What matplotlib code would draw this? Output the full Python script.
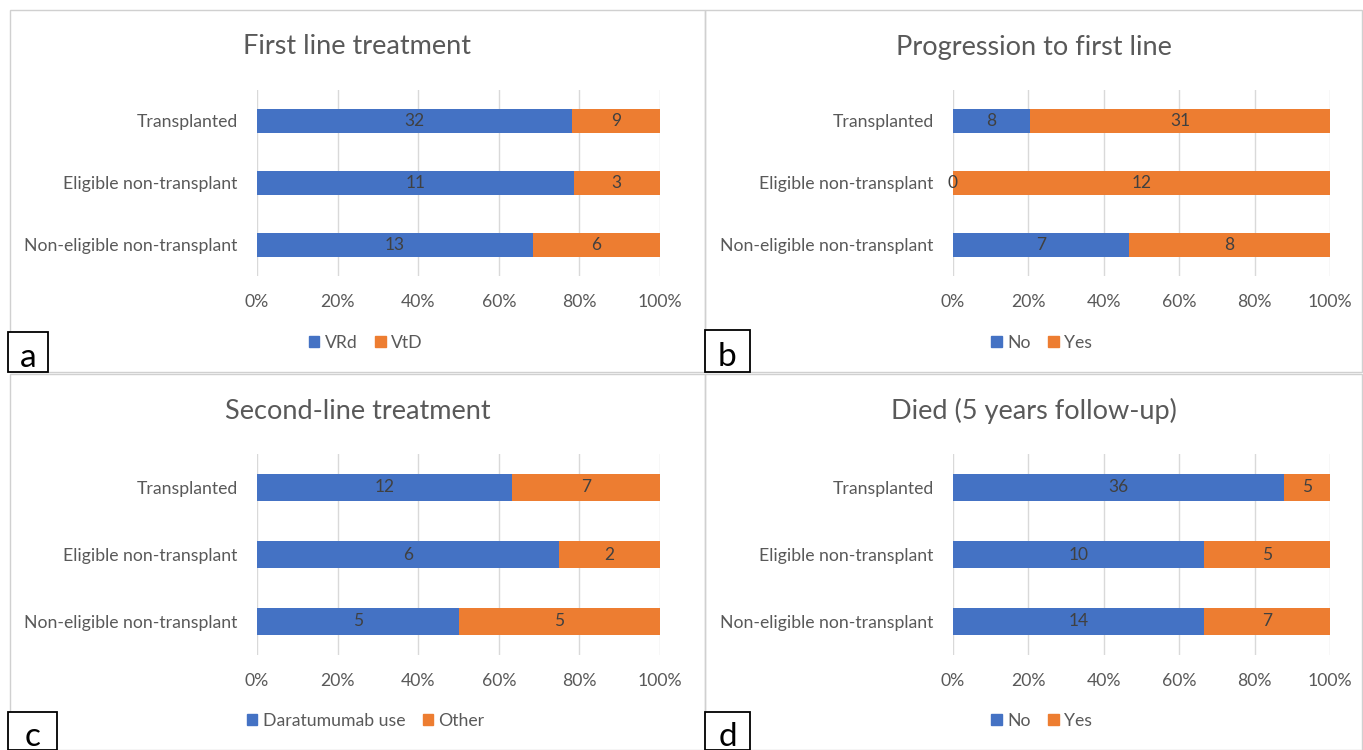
import matplotlib.pyplot as plt
from matplotlib.patches import Patch, Rectangle

plt.rcParams['font.family'] = ['Lato', 'DejaVu Sans']

BLUE = '#4472C4'
ORANGE = '#ED7D31'
TEXT = '#595959'
GRID = '#D9D9D9'

W, H = 1363, 750

groups = ['Transplanted', 'Eligible non-transplant', 'Non-eligible non-transplant']

first_line_vrd = [32, 11, 13]
first_line_vtd = [9, 3, 6]

progression_no = [8, 0, 7]
progression_yes = [31, 12, 8]

second_line_dara = [12, 6, 5]
second_line_other = [7, 2, 5]

died_no = [36, 10, 14]
died_yes = [5, 5, 7]

ticks = [0, 20, 40, 60, 80, 100]
tick_labels = ['0%', '20%', '40%', '60%', '80%', '100%']


def px_axes(fig, x0, x1, y0, y1):
    # pixel box (top-left origin) -> figure fraction axes
    return fig.add_axes([x0 / W, 1 - y1 / H, (x1 - x0) / W, (y1 - y0) / H])


def draw_panel(fig, box, title, first, second, names, letter, pbox, lbox):
    ax = px_axes(fig, *box)
    n = len(groups)
    ypos = list(range(n))[::-1]
    tot = [a + b for a, b in zip(first, second)]
    p1 = [100 * a / t for a, t in zip(first, tot)]
    p2 = [100 * b / t for b, t in zip(second, tot)]
    ax.barh(ypos, p1, height=0.4, color=BLUE, zorder=3)
    ax.barh(ypos, p2, left=p1, height=0.4, color=ORANGE, zorder=3)
    for y, a, b, pa, pb in zip(ypos, first, second, p1, p2):
        ax.text(pa / 2, y, str(a), ha='center', va='center', fontsize=12.5, color='#404040', zorder=4)
        ax.text(pa + pb / 2, y, str(b), ha='center', va='center', fontsize=12.5, color='#404040', zorder=4)
    ax.set_xlim(0, 100)
    ax.set_ylim(-0.5, n - 0.5)
    ax.set_xticks(ticks)
    ax.set_xticklabels(tick_labels)
    ax.set_yticks(ypos)
    ax.set_yticklabels(groups)
    ax.tick_params(length=0, labelsize=12.7, labelcolor=TEXT)
    ax.tick_params(axis='x', pad=13)
    ax.tick_params(axis='y', pad=14)
    ax.grid(axis='x', color=GRID, linewidth=1, zorder=0)
    for s in ax.spines.values():
        s.set_visible(False)

    # panel frame
    px0, px1, py0, py1 = pbox
    fig.patches.append(Rectangle((px0 / W, 1 - py1 / H), (px1 - px0) / W, (py1 - py0) / H,
                                 transform=fig.transFigure, fill=False, edgecolor='#D0D0D0',
                                 linewidth=1))
    cx = (px0 + px1) / 2 / W
    fig.text(cx, 1 - (py0 + 37) / H, title, ha='center', va='center', fontsize=19.5, color=TEXT)
    handles = [Patch(color=BLUE, label=names[0]), Patch(color=ORANGE, label=names[1])]
    fig.legend(handles=handles, loc='center', bbox_to_anchor=(cx + 0.006, 1 - (py1 - 29) / H),
               ncol=2, frameon=False, fontsize=12.7, labelcolor=TEXT, handlelength=0.6,
               handleheight=0.6, handletextpad=0.3, columnspacing=1.0)

    # letter box
    lx0, lx1, ly0, ly1 = lbox
    fig.patches.append(Rectangle((lx0 / W, 1 - ly1 / H), (lx1 - lx0) / W, (ly1 - ly0) / H,
                                 transform=fig.transFigure, facecolor='white', edgecolor='black',
                                 linewidth=1.3, zorder=5))
    fig.text((lx0 + lx1) / 2 / W, 1 - (ly0 + ly1) / 2 / H - 0.008, letter, ha='center', va='center',
             fontsize=24, color='black', zorder=6)


fig = plt.figure(figsize=(W / 100, H / 100), dpi=100)

draw_panel(fig, (257, 660, 90, 276), 'First line treatment', first_line_vrd, first_line_vtd,
           ['VRd', 'VtD'], 'a', (10, 705, 10, 372), (8, 48, 332, 372))
draw_panel(fig, (953, 1330, 90, 276), 'Progression to first line', progression_no, progression_yes,
           ['No', 'Yes'], 'b', (705, 1362, 10, 372), (705, 750, 330, 372))
draw_panel(fig, (257, 660, 454, 655), 'Second-line treatment', second_line_dara, second_line_other,
           ['Daratumumab use', 'Other'], 'c', (10, 705, 374, 750), (8, 57, 712, 750))
draw_panel(fig, (953, 1330, 454, 655), 'Died (5 years follow-up)', died_no, died_yes,
           ['No', 'Yes'], 'd', (705, 1362, 374, 750), (705, 750, 712, 750))

fig.savefig('out.png', dpi=100, facecolor='white')
